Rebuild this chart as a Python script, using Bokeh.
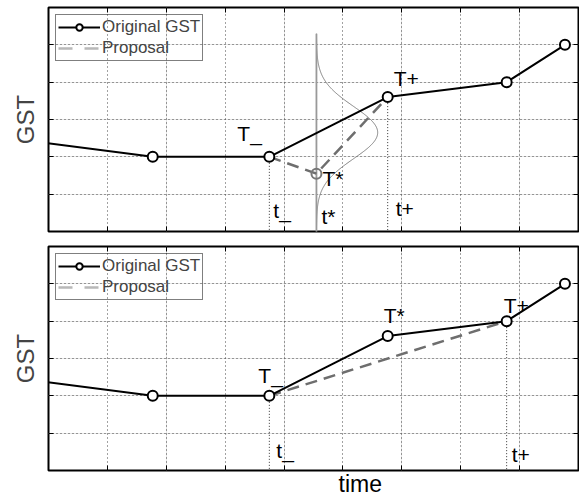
import numpy as np
from bokeh.plotting import figure
from bokeh.models import (Range1d, FixedTicker, LinearAxis, Legend, LegendItem,
                          Title, ColumnDataSource, Grid, CustomLabelingPolicy)
from bokeh.layouts import column
from bokeh.core.properties import value
from bokeh.embed import file_html
from bokeh.resources import INLINE

FONT = "Liberation Sans"

# ---------------- data ----------------
x_ticks = [1, 2, 3, 4, 5, 6, 7, 8]
y_ticks = [1, 2, 3, 4, 5]

# Original GST (same in both panels)
gst_time = [-0.3, 1.77, 3.75, 5.76, 7.78, 8.77]
gst_value = [2.42, 2.0, 2.0, 3.6, 4.0, 5.0]

# top panel: proposal through new point T* at t*
top_prop_time = [3.75, 4.55, 5.76]
top_prop_value = [2.0, 1.55, 3.6]
# proposal distribution drawn at t*
gauss_mu = 2.65
gauss_sigma = 0.7
gauss_amp = 1.04
gauss_top = 5.3

# bottom panel: proposal removing point T*
bot_prop_time = [3.75, 7.78]
bot_prop_value = [2.0, 4.0]

top_label_text = ["T_", "T+", "T*", "t*", "t_", "t+"]
top_label_x = [gst_time[2], gst_time[3], top_prop_time[1], top_prop_time[1], gst_time[2], gst_time[3]]
top_label_y = [gst_value[2], gst_value[3], top_prop_value[1], 0, 0, 0]
top_label_dx = [-32, 6, 6, 5, 4, 8]
top_label_dy = [-23, -19, 5, -15, -21, -23]

bot_label_text = ["T_", "t_", "T*", "T+", "t+"]
bot_label_x = [gst_time[2], gst_time[2], gst_time[3], gst_time[4], gst_time[4]]
bot_label_y = [gst_value[2], 0, gst_value[3], gst_value[4], 0]
bot_label_dx = [-11, 7, -4, -3, 5]
bot_label_dy = [-20, -20, -21, -16, -16]

NO_LABELS = CustomLabelingPolicy(code="""
for (const i of indices) indices.unset(i)
return indices
""")


def style_axis(ax, ticks):
    ax.ticker = FixedTicker(ticks=ticks)
    ax.major_tick_in = 5
    ax.major_tick_out = 0
    ax.minor_tick_in = 0
    ax.minor_tick_out = 0
    ax.major_tick_line_color = "black"
    ax.major_tick_line_width = 1
    ax.major_label_text_font_size = "0px"
    ax.major_label_standoff = 0
    ax.major_label_policy = NO_LABELS
    ax.axis_line_color = None


def make_fig(bottom_border):
    p = figure(frame_width=530, frame_height=224,
               min_border_left=48, min_border_right=1,
               min_border_top=7, min_border_bottom=bottom_border,
               x_range=Range1d(0, 9), y_range=Range1d(0, 6),
               x_axis_location=None, y_axis_location=None,
               output_backend="svg", toolbar_location=None)
    p.background_fill_color = "white"
    p.border_fill_color = "white"
    p.outline_line_color = "black"
    p.outline_line_width = 2

    for dim, ticks in ((0, x_ticks), (1, y_ticks)):
        g = Grid(dimension=dim, ticker=FixedTicker(ticks=ticks))
        g.grid_line_color = "#444444"
        g.grid_line_dash = "1 3"
        g.grid_line_width = 1
        p.add_layout(g)

    for loc, ticks in (("below", x_ticks), ("above", x_ticks),
                       ("left", y_ticks), ("right", y_ticks)):
        ax = LinearAxis()
        style_axis(ax, ticks)
        if loc == "left":
            ax.axis_label = "GST"
            ax.axis_label_text_font = FONT
            ax.axis_label_text_font_size = "24px"
            ax.axis_label_text_font_style = "normal"
            ax.axis_label_standoff = 10
        p.add_layout(ax, loc)
    return p


def add_gst(p):
    r_line = p.line(gst_time, gst_value, line_color="black", line_width=2)
    r_pts = p.scatter(gst_time, gst_value, marker="circle", size=10,
                      line_color="black", line_width=2, fill_color="white")
    # legend-only sample for the proposal (kept outside the visible range)
    r_dummy = p.line([-20, -19], [-20, -20], line_color="#b8b8b8", line_width=2.5,
                     line_dash="14 12")
    legend = Legend(items=[LegendItem(label="Original GST", renderers=[r_line, r_pts]),
                           LegendItem(label="Proposal", renderers=[r_dummy])],
                    location="top_left")
    legend.margin = 7
    legend.padding = 2
    legend.spacing = 1
    legend.glyph_width = 42
    legend.glyph_height = 16
    legend.label_height = 16
    legend.label_standoff = 2
    legend.label_text_font = FONT
    legend.label_text_font_size = "17px"
    legend.border_line_color = "black"
    legend.border_line_width = 1
    legend.background_fill_alpha = 0
    p.add_layout(legend)


def add_labels(p, text, xs, ys, dx, dy):
    src = ColumnDataSource(dict(x=xs, y=ys, text=text, dx=dx, dy=dy))
    p.text(x="x", y="y", text="text", x_offset="dx", y_offset="dy", source=src,
           text_font=value(FONT), text_font_size=value("21px"), text_color="black",
           text_align="left", text_baseline="alphabetic")


# ---------------- top panel ----------------
p1 = make_fig(8)
p1.segment(x0=[gst_time[2], gst_time[3]], y0=[gst_value[2], gst_value[3]],
           x1=[gst_time[2], gst_time[3]], y1=[-0.2, -0.2],
           line_color="#333333", line_dash="1 2", line_width=1)
gy = np.linspace(0, gauss_top, 300)
gx = top_prop_time[1] + gauss_amp * np.exp(-0.5 * ((gy - gauss_mu) / gauss_sigma) ** 2)
p1.line(gx, gy, line_color="#808080", line_width=1)
p1.segment(x0=[top_prop_time[1]], y0=[-0.2], x1=[top_prop_time[1]], y1=[gauss_top],
           line_color="#999999", line_width=1.8)
p1.line(top_prop_time, top_prop_value, line_color="#6e6e6e", line_width=2.5, line_dash="12 7")
p1.scatter([top_prop_time[1]], [top_prop_value[1]], marker="circle", size=10,
           line_color="#777777", line_width=2, fill_color=None)
add_gst(p1)
add_labels(p1, top_label_text, top_label_x, top_label_y, top_label_dx, top_label_dy)

# ---------------- bottom panel ----------------
p2 = make_fig(0)
p2.segment(x0=[gst_time[2], gst_time[4]], y0=[gst_value[2], gst_value[4]],
           x1=[gst_time[2], gst_time[4]], y1=[-0.2, -0.2],
           line_color="#333333", line_dash="1 2", line_width=1)
p2.line(bot_prop_time, bot_prop_value, line_color="#6e6e6e", line_width=2.5, line_dash="12 7")
add_gst(p2)
add_labels(p2, bot_label_text, bot_label_x, bot_label_y, bot_label_dx, bot_label_dy)
p2.add_layout(Title(text="time", align="left", offset=290, standoff=0,
                    vertical_align="top",
                    text_font=FONT, text_font_size="23px", text_font_style="normal",
                    text_color="black"), "below")

layout = column(p1, p2, spacing=0)
open("out.html", "w").write(file_html(layout, INLINE))
